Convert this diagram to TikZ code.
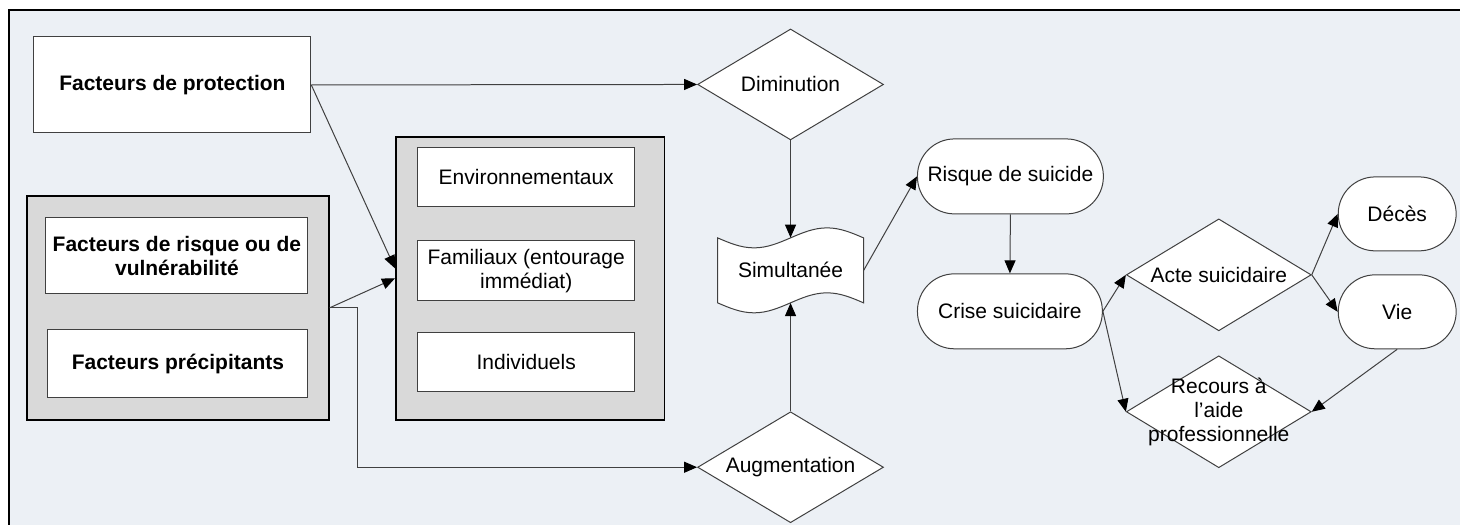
\documentclass[tikz,border=0pt]{standalone}
\usepackage{fontspec}
\setmainfont{Liberation Sans}
\usepackage{tikz}
\usepackage{xcolor}
\usetikzlibrary{arrows.meta}
\usetikzlibrary{shapes.geometric}
\definecolor{hintergrund}{RGB}{236,240,245}
\definecolor{grau}{RGB}{217,217,217}
\definecolor{linie}{RGB}{64,64,64}

\begin{document}
\begin{tikzpicture}[x=1pt,y=-1pt,
	txt/.style={font=\fontsize{21}{24}\selectfont, align=center},
	fett/.style={font=\fontsize{21}{24}\selectfont\bfseries},
	kasten/.style={txt, draw=linie, line width=1pt, fill=white, inner sep=0pt},
	gruppe/.style={draw=black, line width=1.6pt, fill=grau, inner sep=0pt},
	raute/.style={txt, diamond, aspect=1.68, draw=linie, line width=1pt, fill=white, inner sep=-6pt, minimum width=186pt, minimum height=111pt},
	rund/.style={txt, draw=linie, line width=1pt, fill=white, rounded corners=37pt, minimum height=75pt},
	pfeil/.style={draw=linie, line width=1pt, -{Triangle[length=13pt,width=11pt,color=black]}}]
	 %Hintergrund
	 \fill[white] (0,0) rectangle (1461,525);
	 \fill[hintergrund] (9,10) rectangle (1461,525);
	 \draw[line width=1.7pt] (9,525) -- (9,10) -- (1461,10);
	 \useasboundingbox (0,0) rectangle (1461,525);
	 %
	 \node (prot) at (172.5,85) [kasten, fett, minimum width=277pt, minimum height=96pt] {Facteurs de protection};
	 %
	 \node (links) at (178,308) [gruppe, minimum width=302pt, minimum height=224pt] {};
	 \node (risk) at (177,256) [kasten, fett, minimum width=262pt, minimum height=76pt] {Facteurs de risque ou de\\vulnérabilité};
	 \node (praezip) at (178,364) [kasten, fett, minimum width=260pt, minimum height=68pt] {Facteurs précipitants};
	 %
	 \node (mitte) at (530.5,278.5) [gruppe, minimum width=269pt, minimum height=283pt] {};
	 \node (umwelt) at (526.5,177.5) [kasten, minimum width=217pt, minimum height=59pt] {Environnementaux};
	 \node (familie) at (526.5,271) [kasten, minimum width=217pt, minimum height=60pt] {Familiaux (entourage\\immédiat)};
	 \node (indiv) at (526.5,362.5) [kasten, minimum width=217pt, minimum height=59pt] {Individuels};
	 %
	 \node (dimin) at (791,84.5) [raute] {Diminution};
	 \node (augm) at (791,467.5) [raute] {Augmentation};
	 %
	 %Simultanee
	 \draw[draw=linie, line width=1pt, fill=white] (718,238) sin (754.5,248) cos (791,238) sin (827.5,228) cos (864,238) -- (864,303) sin (827.5,293) cos (791,303) sin (754.5,313) cos (718,303) -- cycle;
	 \node (simul) at (791,270.5) [txt, minimum width=146pt, minimum height=65pt, inner sep=0pt] {Simultanée};
	 %
	 \node (risque) at (1011,176.5) [rund, minimum width=186pt] {Risque de suicide};
	 \node (crise) at (1010.5,311.5) [rund, minimum width=185pt] {Crise suicidaire};
	 \node (acte) at (1219.5,275) [raute, minimum width=185pt, minimum height=112pt] {Acte suicidaire};
	 \node (recours) at (1219.5,412) [raute, minimum width=185pt, minimum height=112pt] {};
	 \node (recourstext) at (1219.5,412) [txt] {Recours à\\l’aide\\professionnelle};
	 \node (deces) at (1398,214) [rund, minimum width=118pt, minimum height=74pt] {Décès};
	 \node (vie) at (1398,312) [rund, minimum width=118pt, minimum height=74pt] {Vie};
	 %
	 %Schutz-Diminution
	 \draw[pfeil] (prot.east) -- (dimin.west);
	 %
	 %Schutz-Mitte
	 \draw[pfeil] (prot.east) -- ([yshift=10pt]mitte.west);
	 %
	 %Risiko-Mitte
	 \draw[pfeil] (links.east) -- (mitte.west);
	 %
	 %Risiko-Augmentation
	 \draw[pfeil] (links.east) -- ++(28,0) |- (augm.west);
	 %
	 %Diminution/Augmentation-Simultanee
	 \draw[pfeil] (dimin.south) -- (simul.north);
	 \draw[pfeil] (augm.north) -- (simul.south);
	 %
	 %Simultanee-Risque-Crise
	 \draw[pfeil] (simul.east) -- (risque.west);
	 \draw[pfeil] (risque.south) -- (crise.north);
	 %
	 %Crise-Acte/Recours
	 \draw[pfeil] (crise.east) -- (acte.west);
	 \draw[pfeil] (crise.east) -- (recours.west);
	 %
	 %Acte-Deces/Vie
	 \draw[pfeil] (acte.east) -- (deces.west);
	 \draw[pfeil] (acte.east) -- (vie.west);
	 %
	 %Vie-Recours
	 \draw[pfeil] (vie.south) -- (recours.east);
\end{tikzpicture}
\end{document}
